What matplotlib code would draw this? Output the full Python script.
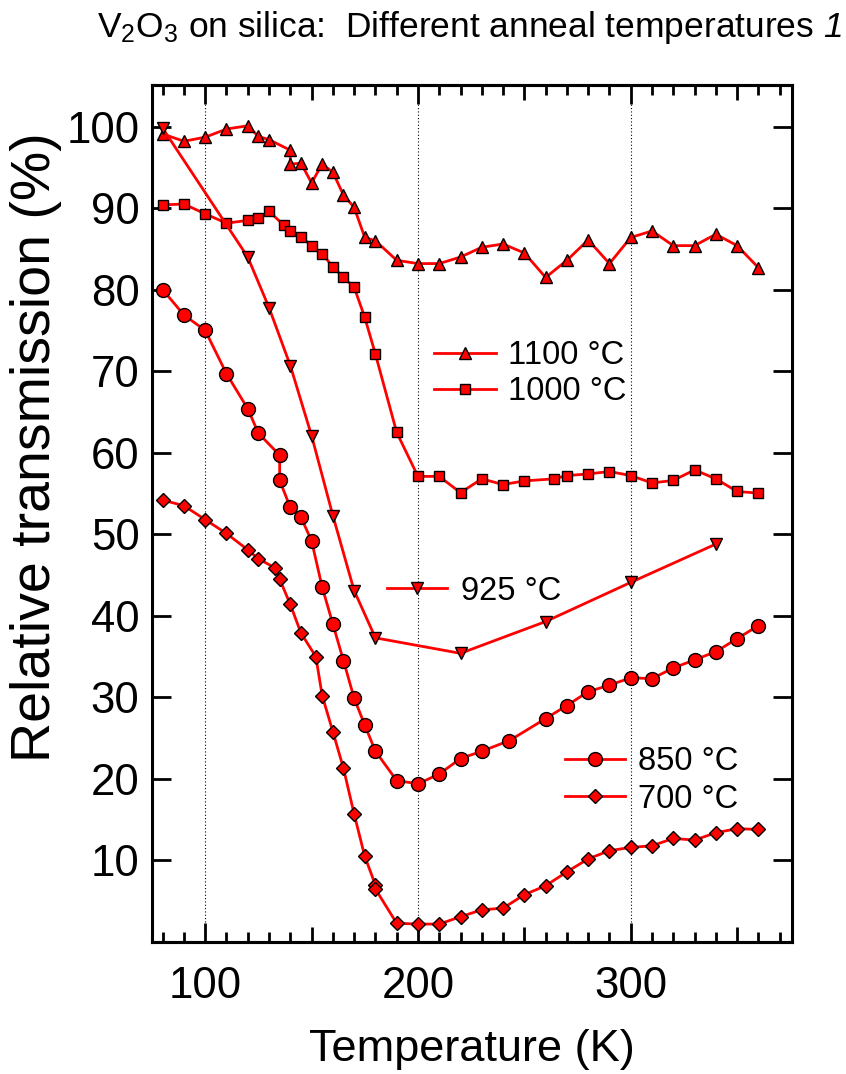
import matplotlib
matplotlib.use("Agg")
import matplotlib.pyplot as plt
from matplotlib import font_manager
from matplotlib.lines import Line2D

# Transmission vs temperature for V2O3 films annealed at different temperatures
t1100 = [80, 90, 100, 110, 120, 125, 130, 140, 140, 145, 150, 155, 160, 165, 170,
         175, 180, 190, 200, 210, 220, 230, 240, 250, 260, 270, 280, 290, 300, 310,
         320, 330, 340, 350, 360]
v1100 = [99.1, 98.2, 98.7, 99.7, 100.1, 98.8, 98.4, 97.1, 95.4, 95.5, 93.1, 95.4,
         94.4, 91.6, 90.1, 86.4, 86.0, 83.6, 83.2, 83.2, 84.0, 85.2, 85.6, 84.5,
         81.5, 83.6, 86.1, 83.2, 86.4, 87.2, 85.4, 85.4, 86.8, 85.4, 82.7]

t1000 = [80, 90, 100, 110, 120, 125, 130, 137, 140, 145, 150, 155, 160, 165, 170,
         175, 180, 190, 200, 210, 220, 230, 240, 250, 264, 270, 280, 290, 300, 310,
         320, 330, 340, 350, 360]
v1000 = [90.4, 90.5, 89.3, 88.15, 88.5, 88.8, 89.6, 87.9, 87.25, 86.5, 85.4, 84.4,
         82.8, 81.5, 80.3, 76.6, 72.1, 62.5, 57.1, 57.1, 55.1, 56.8, 56.1, 56.55,
         56.8, 57.2, 57.4, 57.7, 57.2, 56.3, 56.6, 57.9, 56.8, 55.25, 55.05]

t925 = [80, 120, 130, 140, 150, 160, 170, 180, 220, 260, 300, 340]
v925 = [99.8, 84.0, 77.8, 70.7, 62.1, 52.3, 43.1, 37.3, 35.4, 39.3, 44.1, 48.8]

t850 = [80, 90, 100, 110, 120, 125, 135, 135, 140, 145, 150, 155, 160, 165, 170,
        175, 180, 190, 200, 210, 220, 230, 243, 260, 270, 280, 290, 300, 310, 320,
        330, 340, 350, 360]
v850 = [80.0, 76.9, 75.0, 69.7, 65.4, 62.4, 59.7, 56.6, 53.3, 52.1, 49.2, 43.5,
        39.0, 34.5, 29.9, 26.6, 23.4, 19.8, 19.4, 20.6, 22.5, 23.4, 24.7, 27.4,
        29.0, 30.7, 31.5, 32.4, 32.3, 33.6, 34.6, 35.6, 37.2, 38.8]

t700 = [80, 90, 100, 110, 120, 125, 133, 135, 140, 145, 152, 155, 160, 165, 170,
        175, 180, 180, 190, 200, 210, 220, 230, 240, 250, 260, 270, 280, 290, 300,
        310, 320, 330, 340, 350, 360]
v700 = [54.2, 53.5, 51.8, 50.1, 48.1, 47.0, 45.85, 44.5, 41.4, 37.9, 35.0, 30.2,
        25.8, 21.3, 15.7, 10.5, 7.0, 6.5, 2.3, 2.2, 2.2, 3.1, 3.95, 4.15, 5.8, 6.9,
        8.6, 10.2, 11.2, 11.6, 11.8, 12.7, 12.5, 13.4, 13.9, 13.8]

labels = ["1100 \u00b0C", "1000 \u00b0C", "925 \u00b0C", "850 \u00b0C", "700 \u00b0C"]
x_ticks = [100, 200, 300]
y_ticks = [10, 20, 30, 40, 50, 60, 70, 80, 90, 100]
title_main = r"V$_2$O$_3$ on silica:  Different anneal temperatures"
title_tail = "1"

installed = {f.name for f in font_manager.fontManager.ttflist}
base_font = "Liberation Sans"
if "Liberation Sans Narrow" in installed:
    title_font, title_size = "Liberation Sans Narrow", 31
else:
    title_font, title_size = base_font, 25.5

plt.rcParams["font.family"] = [base_font, "DejaVu Sans"]
plt.rcParams["mathtext.fontset"] = "custom"
plt.rcParams["mathtext.rm"] = title_font
plt.rcParams["mathtext.it"] = title_font + ":italic"

W, H = 846, 1074
fig = plt.figure(figsize=(W / 100, H / 100), dpi=100)
fig.patch.set_facecolor("white")


def fx(px):
    return px / W


def fy(py):
    return 1 - py / H


ax = fig.add_axes([fx(152), fy(942), fx(792) - fx(152), fy(85) - fy(942)])
ax.set_xlim(75, 375.8)
ax.set_ylim(0, 105.1)

red = "#ff0000"
line_kw = dict(color=red, lw=2.0, mec="black", mew=1.0, mfc=red)
series = [
    (t1100, v1100, "^", 8.8),
    (t1000, v1000, "s", 7.2),
    (t925, v925, "v", 8.8),
    (t850, v850, "o", 10.0),
    (t700, v700, "D", 6.8),
]
for t, v, m, ms in series:
    ax.plot(t, v, marker=m, ms=ms, zorder=3, **line_kw)

# dotted guides at the labelled temperatures
for xv in x_ticks:
    ax.axvline(xv, color="black", lw=0.8, ls=(0, (1, 2)), zorder=1)

# axes frame and ticks
for s in ax.spines.values():
    s.set_linewidth(2.2)
ax.set_xticks(x_ticks)
ax.set_xticklabels([str(v) for v in x_ticks])
ax.set_xticks([v for v in range(80, 380, 10) if v % 50 != 0], minor=True)
ax.set_yticks(y_ticks)
ax.set_yticklabels([str(v) for v in y_ticks])
ax.tick_params(axis="x", which="major", direction="in", length=14, width=2,
               top=True, bottom=True, labelsize=31.5, pad=17)
ax.tick_params(axis="x", which="minor", direction="in", length=7.5, width=2,
               top=True, bottom=True)
ax.tick_params(axis="y", which="major", direction="in", length=14, width=2,
               left=True, right=True, labelsize=31.5, pad=9)

# mid-decade ticks (150, 250, 350) are drawn a little longer
for side in ("bottom", "top"):
    sec = ax.secondary_xaxis(side)
    sec.set_xticks([150, 250, 350])
    sec.tick_params(direction="in", length=11, width=2, labelbottom=False,
                    labeltop=False)
    for s in sec.spines.values():
        s.set_linewidth(2.2)

fig.text(fx(472), fy(1050), "Temperature (K)", ha="center", va="center",
         fontsize=32.5)
fig.text(fx(36), fy(447), "Relative transmission (%)", ha="center", va="center",
         rotation=90, fontsize=40)

# title, with the run number set in italics right after it
title = fig.text(fx(97), fy(37), title_main, ha="left", va="baseline",
                 fontsize=title_size, family=title_font)
renderer = fig.canvas.get_renderer()
right_px = title.get_window_extent(renderer).x1
fig.text((right_px + 9) / W, fy(37), title_tail, ha="left", va="baseline",
         fontsize=title_size, family=title_font, style="italic")

# key entries: (line start, line end, y, text x)
key_pos = [
    (434, 496, 353, 508),
    (434, 496, 389, 508),
    (387, 447, 588, 461),
    (565, 625, 759, 638),
    (565, 625, 796, 638),
]
for (x0, x1, yk, xt), (t, v, m, ms), lab in zip(key_pos, series, labels):
    xm = (x0 + x1) / 2
    fig.add_artist(Line2D([fx(x0), fx(xm), fx(x1)], [fy(yk)] * 3,
                          transform=fig.transFigure, marker=m, ms=ms,
                          markevery=[1], **line_kw))
    fig.text(fx(xt), fy(yk + 11.5), lab, ha="left", va="baseline", fontsize=23.5)

fig.savefig("out.png", dpi=100, facecolor="white")
